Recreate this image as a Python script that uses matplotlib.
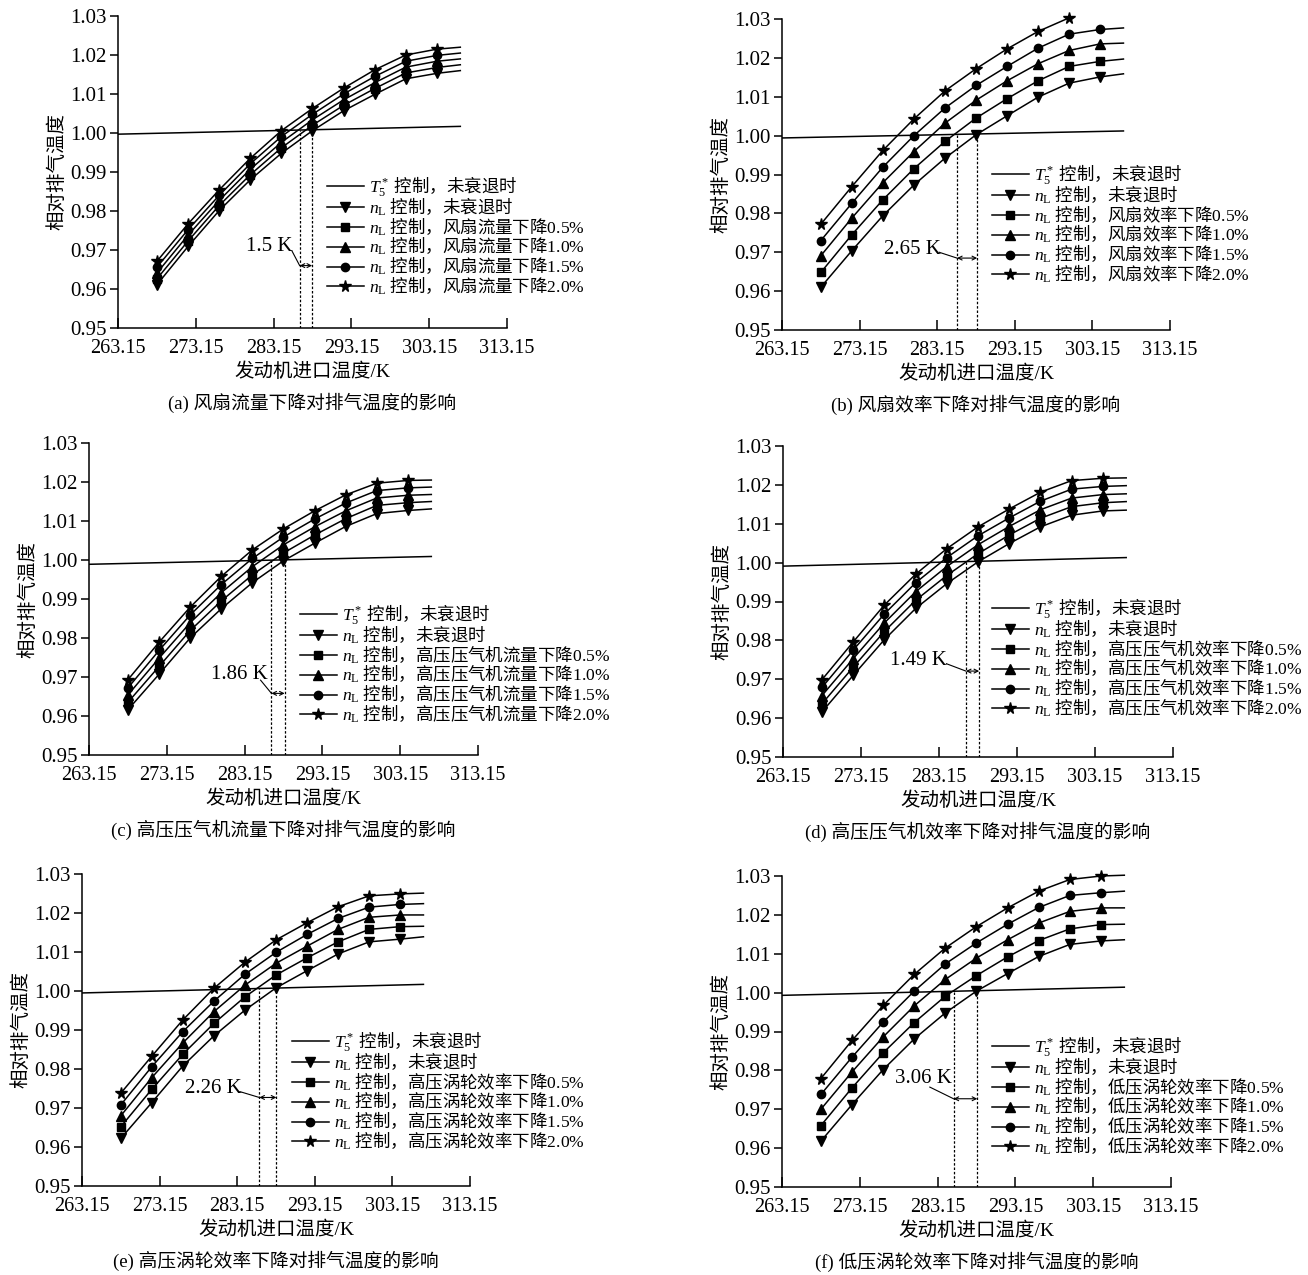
import numpy as np
import matplotlib
matplotlib.use("Agg")
import matplotlib.pyplot as plt
from matplotlib.font_manager import FontProperties

plt.rcParams['font.family'] = ['Liberation Serif', 'Noto Sans CJK SC']
plt.rcParams['mathtext.fontset'] = 'custom'
plt.rcParams['mathtext.rm'] = 'Liberation Serif'
plt.rcParams['mathtext.it'] = 'Liberation Serif:italic'

# inlet temperature (K) of the points; last value is the curve end, no marker
temps = [268.15, 272.15, 276.15, 280.15, 284.15, 288.15, 292.15, 296.15, 300.15, 304.15, 307.15]
t5_x = [263.15, 307.15]
xticks = [263.15, 273.15, 283.15, 293.15, 303.15, 313.15]
yticks = [0.95, 0.96, 0.97, 0.98, 0.99, 1.00, 1.01, 1.02, 1.03]
levels = ['0.5', '1.0', '1.5', '2.0']

# (a) fan flow
a_t5 = [0.9997, 1.0017]
a_base = [0.9611, 0.9709, 0.9801, 0.9880, 0.9948, 1.0006, 1.0057, 1.0099, 1.0139, 1.0153, 1.0160]
a_05 = [0.9626, 0.9723, 0.9814, 0.9893, 0.9962, 1.0020, 1.0071, 1.0114, 1.0154, 1.0168, 1.0175]
a_10 = [0.9641, 0.9738, 0.9827, 0.9907, 0.9976, 1.0034, 1.0085, 1.0129, 1.0169, 1.0184, 1.0190]
a_15 = [0.9656, 0.9752, 0.9840, 0.9921, 0.9991, 1.0048, 1.0100, 1.0145, 1.0184, 1.0199, 1.0205]
a_20 = [0.9671, 0.9767, 0.9854, 0.9935, 1.0006, 1.0063, 1.0115, 1.0162, 1.0200, 1.0215, 1.0220]
a_gap = [286.5, 288.1]

# (b) fan efficiency
b_t5 = [0.9994, 1.0012]
b_base = [0.9610, 0.9704, 0.9794, 0.9873, 0.9942, 1.0002, 1.0051, 1.0099, 1.0135, 1.0151, 1.0159]
b_05 = [0.9648, 0.9745, 0.9835, 0.9915, 0.9985, 1.0045, 1.0095, 1.0141, 1.0178, 1.0191, 1.0197]
b_10 = [0.9691, 0.9788, 0.9879, 0.9959, 1.0032, 1.0091, 1.0141, 1.0185, 1.0219, 1.0236, 1.0238]
b_15 = [0.9730, 0.9826, 0.9919, 1.0000, 1.0071, 1.0129, 1.0178, 1.0225, 1.0261, 1.0273, 1.0277]
b_20 = [0.9772, 0.9869, 0.9962, 1.0043, 1.0115, 1.0172, 1.0223, 1.0268, 1.0303]
b_gap = [285.7, 288.3]

# (c) HP compressor flow
c_t5 = [0.9989, 1.0009]
c_base = [0.9616, 0.9707, 0.9800, 0.9875, 0.9942, 0.9998, 1.0043, 1.0086, 1.0119, 1.0127, 1.0131]
c_05 = [0.9635, 0.9727, 0.9819, 0.9895, 0.9962, 1.0018, 1.0064, 1.0106, 1.0140, 1.0147, 1.0150]
c_10 = [0.9654, 0.9748, 0.9839, 0.9916, 0.9983, 1.0039, 1.0085, 1.0126, 1.0159, 1.0166, 1.0168]
c_15 = [0.9672, 0.9768, 0.9859, 0.9937, 1.0004, 1.0059, 1.0105, 1.0146, 1.0178, 1.0185, 1.0187]
c_20 = [0.9693, 0.9789, 0.9879, 0.9958, 1.0026, 1.0080, 1.0126, 1.0167, 1.0197, 1.0204, 1.0205]
c_gap = [286.6, 288.3]

# (d) HP compressor efficiency
d_t5 = [0.9991, 1.0013]
d_base = [0.9616, 0.9710, 0.9802, 0.9882, 0.9946, 1.0002, 1.0049, 1.0092, 1.0122, 1.0133, 1.0135]
d_05 = [0.9637, 0.9731, 0.9823, 0.9903, 0.9967, 1.0023, 1.0071, 1.0114, 1.0144, 1.0154, 1.0157]
d_10 = [0.9658, 0.9753, 0.9845, 0.9925, 0.9990, 1.0046, 1.0093, 1.0136, 1.0166, 1.0175, 1.0177]
d_15 = [0.9679, 0.9775, 0.9868, 0.9948, 1.0013, 1.0069, 1.0115, 1.0158, 1.0189, 1.0196, 1.0198]
d_20 = [0.9699, 0.9796, 0.9891, 0.9970, 1.0036, 1.0092, 1.0138, 1.0181, 1.0211, 1.0217, 1.0218]
d_gap = [286.6, 288.3]

# (e) HP turbine efficiency
e_t5 = [0.9995, 1.0017]
e_base = [0.9622, 0.9714, 0.9808, 0.9885, 0.9951, 1.0008, 1.0052, 1.0095, 1.0126, 1.0133, 1.0139]
e_05 = [0.9652, 0.9748, 0.9838, 0.9917, 0.9985, 1.0041, 1.0085, 1.0126, 1.0158, 1.0165, 1.0166]
e_10 = [0.9680, 0.9778, 0.9867, 0.9947, 1.0015, 1.0071, 1.0115, 1.0158, 1.0189, 1.0195, 1.0195]
e_15 = [0.9708, 0.9806, 0.9896, 0.9974, 1.0043, 1.0099, 1.0145, 1.0186, 1.0215, 1.0222, 1.0224]
e_20 = [0.9738, 0.9833, 0.9926, 1.0007, 1.0074, 1.0131, 1.0175, 1.0216, 1.0244, 1.0249, 1.0251]
e_gap = [286.0, 288.2]

# (f) LP turbine efficiency
f_t5 = [0.9993, 1.0014]
f_base = [0.9618, 0.9712, 0.9802, 0.9881, 0.9948, 1.0004, 1.0049, 1.0093, 1.0124, 1.0133, 1.0136]
f_05 = [0.9658, 0.9755, 0.9845, 0.9923, 0.9991, 1.0044, 1.0092, 1.0134, 1.0164, 1.0175, 1.0176]
f_10 = [0.9700, 0.9796, 0.9886, 0.9966, 1.0034, 1.0089, 1.0136, 1.0179, 1.0209, 1.0218, 1.0218]
f_15 = [0.9738, 0.9834, 0.9924, 1.0004, 1.0074, 1.0128, 1.0176, 1.0219, 1.0250, 1.0257, 1.0261]
f_20 = [0.9779, 0.9877, 0.9967, 1.0047, 1.0115, 1.0170, 1.0218, 1.0261, 1.0291, 1.0300, 1.0302]
f_gap = [285.2, 288.25]

gap_text = ['1.5 K', '2.65 K', '1.86 K', '1.49 K', '2.26 K', '3.06 K']
factors = ['风扇流量下降', '风扇效率下降', '高压压气机流量下降',
           '高压压气机效率下降', '高压涡轮效率下降', '低压涡轮效率下降']
captions = ['(a) 风扇流量下降对排气温度的影响', '(b) 风扇效率下降对排气温度的影响',
            '(c) 高压压气机流量下降对排气温度的影响', '(d) 高压压气机效率下降对排气温度的影响',
            '(e) 高压涡轮效率下降对排气温度的影响', '(f) 低压涡轮效率下降对排气温度的影响']

panels = [
    (a_t5, [a_base, a_05, a_10, a_15, a_20], a_gap),
    (b_t5, [b_base, b_05, b_10, b_15, b_20], b_gap),
    (c_t5, [c_base, c_05, c_10, c_15, c_20], c_gap),
    (d_t5, [d_base, d_05, d_10, d_15, d_20], d_gap),
    (e_t5, [e_base, e_05, e_10, e_15, e_20], e_gap),
    (f_t5, [f_base, f_05, f_10, f_15, f_20], f_gap),
]

# layout in pixels (left, right, top, bottom) of each plot area
W, H = 1308, 1275
boxes = [(118, 507, 16, 328), (782, 1170, 19, 330),
         (89, 478, 443, 755), (783, 1173, 446, 757),
         (82, 470, 874, 1186), (782, 1171, 876, 1187)]
# legend upper-left corner (px)
leg_pos = [(327, 174), (992, 162), (300, 602), (992, 596), (292, 1029), (992, 1034)]
# label text anchor (right end) and y of the double arrow
lab_pos = [(285.6, 0.9708), (283.6, 0.9708), (286.1, 0.9706), (284.2, 0.9749), (283.7, 0.9751), (285.0, 0.9779)]
arrow_y = [0.9660, 0.9685, 0.9658, 0.9721, 0.9727, 0.9727]
lead_start = [(285.5, 0.9698), (283.4, 0.9700), (285.2, 0.9692), (284.1, 0.9740), (283.5, 0.9742), (282.15, 0.9757)]

markers = ['v', 's', '^', 'o', '*']
msizes = [6.5, 5.5, 6.5, 6, 8.5]

leg_font = FontProperties(family='Noto Sans CJK SC', size=12.6)

fig = plt.figure(figsize=(W / 100, H / 100), dpi=100)

for i, (t5, curves, gap) in enumerate(panels):
    l, r, t, b = boxes[i]
    ax = fig.add_axes([l / W, 1 - b / H, (r - l) / W, (b - t) / H])
    ax.plot(t5_x, t5, color='black', lw=1.1, label=r'$T_5^*$ 控制，未衰退时')
    for j, ys in enumerate(curves):
        if j == 0:
            lab = r'$n_\mathrm{L}$ 控制，未衰退时'
        else:
            lab = r'$n_\mathrm{L}$ 控制，' + factors[i] + r'$\mathrm{' + levels[j - 1] + r'\%}$'
        xs = temps[:len(ys)]
        ax.plot(xs, ys, color='black', lw=1.1, marker=markers[j], ms=msizes[j],
                markevery=list(range(min(10, len(ys)))), label=lab, clip_on=False)

    # dashed guide lines from the crossings down to the axis
    for gx in gap:
        top = np.interp(gx, t5_x, t5)
        ax.plot([gx, gx], [0.95, top], color='black', lw=0.9, ls=(0, (2, 1.5)))
    ay = arrow_y[i]
    ax.annotate('', xy=(gap[1], ay), xytext=(gap[0], ay),
                arrowprops=dict(arrowstyle='<->', lw=0.8, color='black',
                                shrinkA=0, shrinkB=0, mutation_scale=7))
    lx, ly = lab_pos[i]
    ax.text(lx, ly, gap_text[i], ha='right', va='center', fontsize=15,
            family='Liberation Serif')
    sx, sy = lead_start[i]
    ax.plot([sx, gap[0]], [sy, ay], color='black', lw=0.8)

    ax.set_xlim(263.15, 313.15)
    ax.set_ylim(0.95, 1.03)
    ax.set_xticks(xticks)
    ax.set_xticklabels(['%.2f' % v for v in xticks])
    ax.set_yticks(yticks)
    ax.set_yticklabels(['%.2f' % v for v in yticks])
    ax.spines['top'].set_visible(False)
    ax.spines['right'].set_visible(False)
    for s in ('left', 'bottom'):
        ax.spines[s].set_linewidth(1.1)
    ax.tick_params(axis='x', direction='in', length=7, width=1.1, labelsize=14.5, pad=8)
    ax.tick_params(axis='y', direction='out', length=6, width=1.1, labelsize=15, pad=2)
    ax.set_ylabel('相对排气温度', fontsize=14, family='Noto Sans CJK SC')
    ax.yaxis.set_label_coords(-0.13, 0.5)
    ax.set_xlabel('发动机进口温度/K', fontsize=14)
    ax.xaxis.set_label_coords(0.5, -0.11)
    ax.text(0.5, -0.24, captions[i], transform=ax.transAxes, ha='center', va='center',
            fontsize=13.5)

    px, py = leg_pos[i]
    ax.legend(loc='upper left', bbox_to_anchor=(px / W, 1 - py / H),
              bbox_transform=fig.transFigure, frameon=False, prop=leg_font,
              borderpad=0, borderaxespad=0, labelspacing=-0.15, handlelength=2.1,
              handletextpad=0.3)

fig.savefig('out.png', dpi=100)
